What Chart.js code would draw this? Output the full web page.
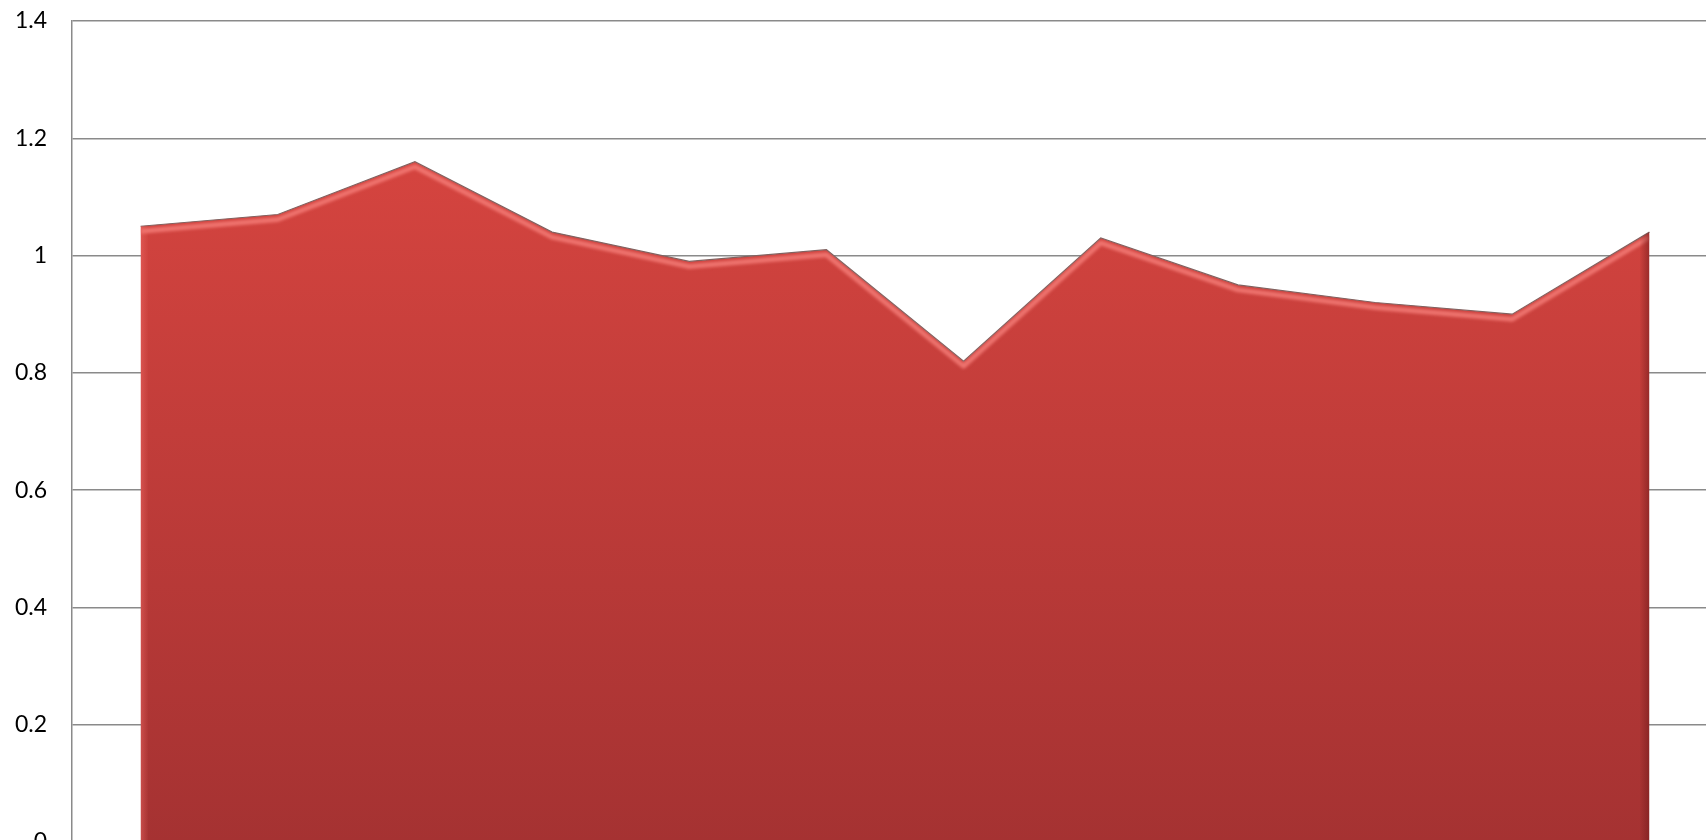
<!DOCTYPE html>
<html>
<head>
<meta charset="utf-8">
<script src="https://cdn.jsdelivr.net/npm/chart.js@4.4.1/dist/chart.umd.min.js"></script>
<style>
  html, body { margin: 0; padding: 0; background: #fff; overflow: hidden; }
  #wrap { position: absolute; left: 0; top: 0; width: 1718px; height: 842px; }
</style>
</head>
<body>
<div id="wrap"><canvas id="areaChart" width="1718" height="842"></canvas></div>
<script>
const categories = ['1', '2', '3', '4', '5', '6', '7', '8', '9', '10', '11', '12'];
const values = [1.05, 1.07, 1.16, 1.04, 0.99, 1.01, 0.82, 1.03, 0.95, 0.92, 0.90, 1.04];
const yTickLabels = ['0', '0.2', '0.4', '0.6', '0.8', '1', '1.2', '1.4'];

// bevel look: soft light band under the top edge, dark shade on the right edge
const bevel = {
    id: 'bevel',
    afterDatasetsDraw(chart) {
        const pts = chart.getDatasetMeta(0).data;
        const area = chart.chartArea;
        const c = chart.ctx;
        c.save();
        c.beginPath();
        c.moveTo(pts[0].x, area.bottom);
        pts.forEach(p => c.lineTo(p.x, p.y));
        c.lineTo(pts[pts.length - 1].x, area.bottom);
        c.closePath();
        c.clip();

        c.filter = 'blur(1.5px)';
        c.beginPath();
        pts.forEach((p, i) => {
            if (i === 0) c.moveTo(p.x, p.y + 5); else c.lineTo(p.x, p.y + 5);
        });
        c.strokeStyle = 'rgba(246, 128, 122, 0.8)';
        c.lineWidth = 5;
        c.lineJoin = 'round';
        c.stroke();
        c.filter = 'none';

        const last = pts[pts.length - 1];
        const g = c.createLinearGradient(last.x - 10, 0, last.x, 0);
        g.addColorStop(0, 'rgba(110, 25, 25, 0)');
        g.addColorStop(1, 'rgba(110, 25, 25, 0.55)');
        c.fillStyle = g;
        c.fillRect(last.x - 10, last.y, 10, area.bottom - last.y);

        const first = pts[0];
        const g2 = c.createLinearGradient(first.x, 0, first.x + 8, 0);
        g2.addColorStop(0, 'rgba(240, 110, 105, 0.45)');
        g2.addColorStop(1, 'rgba(240, 110, 105, 0)');
        c.fillStyle = g2;
        c.fillRect(first.x, first.y, 8, area.bottom - first.y);
        c.restore();
    }
};

const ctx = document.getElementById('areaChart').getContext('2d');
new Chart(ctx, {
    type: 'line',
    data: {
        labels: categories,
        datasets: [{
            data: values,
            fill: 'origin',
            backgroundColor: function (context) {
                const area = context.chart.chartArea;
                if (!area) return '#d14440';
                const g = context.chart.ctx.createLinearGradient(0, area.top, 0, area.bottom);
                g.addColorStop(0, '#DF4842');
                g.addColorStop(1, '#A53232');
                return g;
            },
            borderColor: '#806260',
            borderWidth: 1.2,
            pointRadius: 0,
            tension: 0
        }]
    },
    options: {
        responsive: false,
        animation: false,
        layout: { padding: { top: 21, right: 0, bottom: 0, left: 0 } },
        plugins: { legend: { display: false }, tooltip: { enabled: false } },
        scales: {
            x: {
                display: false,
                offset: true
            },
            y: {
                min: 0,
                max: 1.4,
                afterFit: scale => {
                    scale.width = 72;
                    scale.paddingTop = 0;
                    scale.paddingBottom = 0;
                },
                ticks: {
                    stepSize: 0.2,
                    padding: 25,
                    color: '#000',
                    font: { family: 'Lato', size: 23 },
                    callback: (value, index) => yTickLabels[index]
                },
                grid: { color: '#8a8a8a', lineWidth: 1.5, drawTicks: false },
                border: { color: '#8a8a8a', width: 1.5 }
            }
        }
    },
    plugins: [bevel]
});
</script>
</body>
</html>
